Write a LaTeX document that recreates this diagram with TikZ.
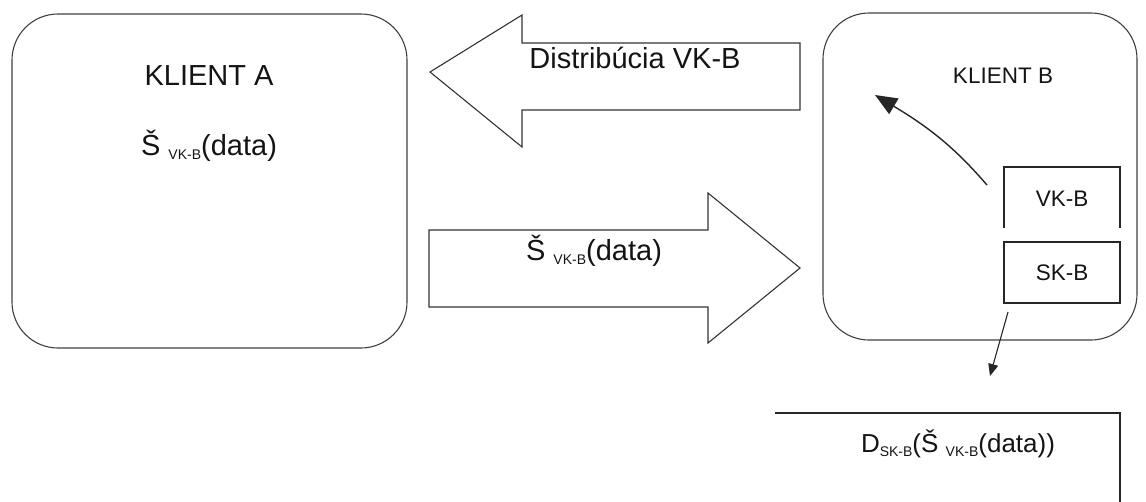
\documentclass[tikz,border=0pt]{standalone}
\usepackage{fontspec}
\setmainfont{Liberation Sans}
\usetikzlibrary{arrows.meta}
\newcommand{\subtx}[1]{\raisebox{-4pt}{\fontsize{14}{14}\selectfont #1}}
\begin{document}
\begin{tikzpicture}[x=1pt,y=-1pt,
  rbox/.style={draw=black!75, line width=1.1pt, rounded corners=46pt},
  fatarrow/.style={draw=black!80, line width=1.1pt, line join=miter},
  plainbox/.style={draw=black!85, line width=1.1pt},
  big/.style={font=\fontsize{29}{32}\selectfont, text=black!92, inner sep=0pt, anchor=base},
  mid/.style={font=\fontsize{22.5}{25}\selectfont, text=black!92, inner sep=0pt, anchor=base},
  conn/.style={draw=black!85, line width=1.4pt}
]
\useasboundingbox (0,0) rectangle (1146,501);
% Klient A
\draw[rbox] (12,14) rectangle (407,348);
\node[big] (ka) at (209,85) {KLIENT A};
\node[big] (kad) at (209,155) {Š \subtx{VK-B}(data)};
% Klient B
\draw[rbox] (823,13) rectangle (1137,340);
\node[mid] (kb) at (1003,83) {KLIENT B};
% top fat arrow
\draw[fatarrow] (800,43) -- (522,43) -- (522,15) -- (430,72) -- (522,147) -- (522,110) -- (800,110) -- cycle;
\node[big] (dist) at (635,68) {Distribúcia VK-B};
% bottom fat arrow
\draw[fatarrow] (429,230) -- (708,230) -- (708,193) -- (800,268) -- (708,343) -- (708,307) -- (429,307) -- cycle;
\node[big] (sd) at (594,260) {Š \subtx{VK-B}(data)};
% VK-B box (open bottom)
\draw[plainbox] (1004,228) -- (1004,167) -- (1120,167) -- (1120,228);
\coordinate (vk) at (1062,197);
\node[mid] (vkt) at (1062,206) {VK-B};
% SK-B box
\node[plainbox, minimum width=116pt, minimum height=61pt, inner sep=0pt] (sk) at (1062,272.5) {};
\node[mid] (skt) at (1062,280) {SK-B};
% curved arrow
\coordinate (cs) at (987,185);
\coordinate (ce) at (875,95);
\draw[conn, -{Triangle[length=22pt,width=18pt]}] (cs) .. controls (955,148) and (930,128) .. (ce);
% down arrow
\coordinate (ds) at (1008,312);
\coordinate (de) at (990,376);
\draw[conn, line width=1.1pt, -{Triangle[length=12pt,width=10pt]}] (ds) -- (de);
% bottom result box (open)
\draw[plainbox] (775,413) -- (1120,413) -- (1120,505);
\node[font=\fontsize{26}{28}\selectfont, text=black!92, inner sep=0pt, anchor=base] (res) at (958,452) {D\subtx{SK-B}(Š \subtx{VK-B}(data))};
\end{tikzpicture}
\end{document}
